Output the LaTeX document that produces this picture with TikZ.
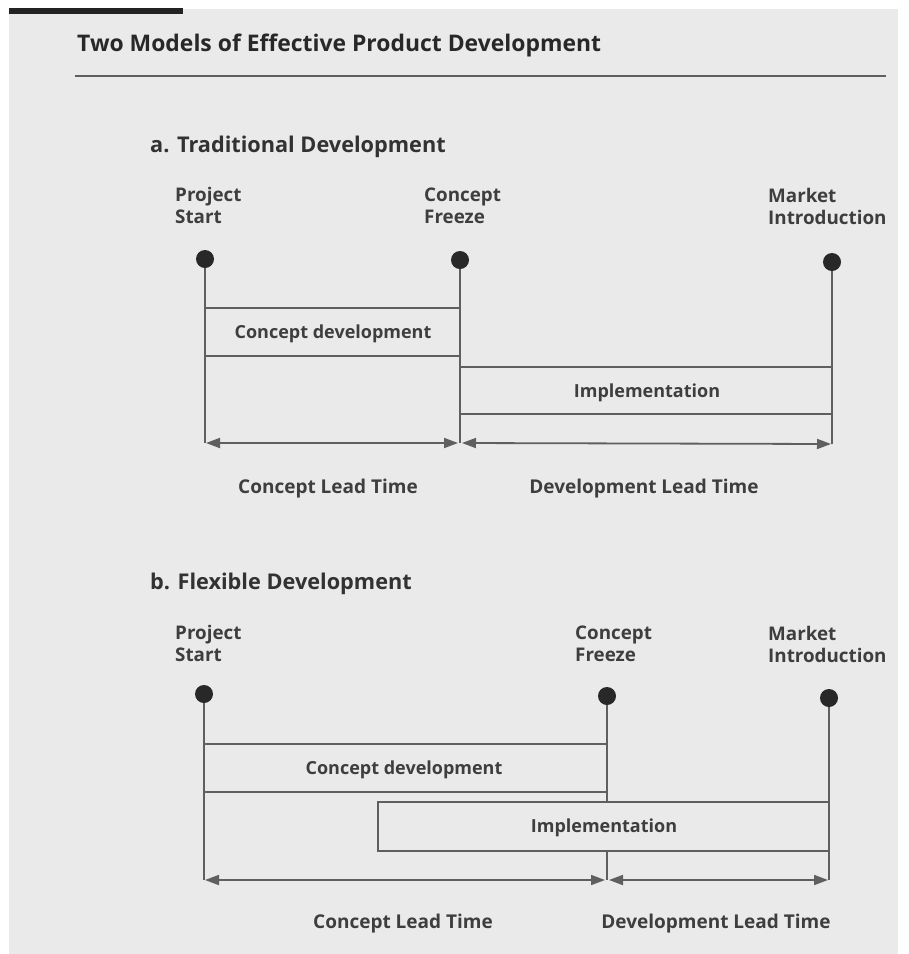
\documentclass[tikz,border=0pt]{standalone}
\usepackage{fontspec}
\setmainfont{Open Sans}
\usetikzlibrary{arrows.meta}
\definecolor{bgc}{RGB}{234,234,234}
\definecolor{linec}{RGB}{95,95,95}
\definecolor{txtc}{RGB}{62,62,62}
\definecolor{dotc}{RGB}{40,40,40}
\definecolor{barc}{RGB}{35,35,35}
\tikzset{
  dotnode/.style={circle, fill=dotc, inner sep=0pt, minimum size=18pt},
  lbl/.style={font=\bfseries\fontsize{18.8}{22}\selectfont, text=txtc, align=left, anchor=north west, inner sep=0pt},
  boxtxt/.style={font=\bfseries\fontsize{18}{20}\selectfont, text=txtc, inner sep=0pt},
  leadtxt/.style={font=\bfseries\fontsize{19}{21}\selectfont, text=txtc, inner sep=0pt},
  headtxt/.style={font=\bfseries\fontsize{21.7}{25}\selectfont, text=txtc!80!black, anchor=west, inner sep=0pt},
  ln/.style={draw=linec, line width=1.8pt},
  dimline/.style={ln, {Triangle[length=14pt,width=10pt]}-{Triangle[length=14pt,width=10pt]}},
}
\begin{document}
\begin{tikzpicture}[x=1pt,y=-1pt]
\useasboundingbox (0,0) rectangle (909,954);
\fill[bgc] (9,9) rectangle (898,954);
\fill[barc] (9,8) rectangle (183,14);
% title
\node[headtxt, font=\bfseries\fontsize{22.9}{26}\selectfont, text=txtc!65!black] (title) at (77,45) {Two Models of Effective Product Development};
\coordinate (ruleL) at (75,76);
\coordinate (ruleR) at (886,76);
\draw[ln] (ruleL) -- (ruleR);

% ===== a. Traditional =====
\node[headtxt] (ha) at (150,147) {a. Traditional Development};
\node[lbl] (aPS) at (175,187) {Project\\Start};
\node[lbl] (aCF) at (424,188) {Concept\\Freeze};
\node[lbl] (aMI) at (768,188) {Market\\Introduction};
\node[dotnode] (aD1) at (205,259) {};
\node[dotnode] (aD2) at (460,260) {};
\node[dotnode] (aD3) at (832,262) {};
\coordinate (aB1) at (205,443);
\coordinate (aB2) at (460,443);
\coordinate (aB3) at (832,444);
\draw[ln] (aD1) -- (aB1);
\draw[ln] (aD2) -- (aB2);
\draw[ln] (aD3) -- (aB3);
% concept development box
\coordinate (aC1) at (205,308); \coordinate (aC2) at (460,308);
\coordinate (aC3) at (205,356); \coordinate (aC4) at (460,356);
\draw[ln] (aC1) -- (aC2);
\draw[ln] (aC3) -- (aC4);
\node[boxtxt] (aCD) at (333,334) {Concept development};
% implementation box
\coordinate (aI1) at (460,367); \coordinate (aI2) at (832,367);
\coordinate (aI3) at (460,414); \coordinate (aI4) at (832,414);
\draw[ln] (aI1) -- (aI2);
\draw[ln] (aI3) -- (aI4);
\node[boxtxt] (aIM) at (647,393) {Implementation};
% lead time arrows
\draw[dimline] ([xshift=1pt]aB1) -- ([xshift=-2pt]aB2);
\draw[dimline] ([xshift=2pt]aB2) -- ([xshift=-1pt]aB3);
\node[leadtxt] (aCL) at (328,489) {Concept Lead Time};
\node[leadtxt] (aDL) at (644,489) {Development Lead Time};

% ===== b. Flexible =====
\node[headtxt] (hb) at (150,584) {b. Flexible Development};
\node[lbl] (bPS) at (175,625) {Project\\Start};
\node[lbl] (bCF) at (575,626) {Concept\\Freeze};
\node[lbl] (bMI) at (768,626) {Market\\Introduction};
\node[dotnode] (bD1) at (204,694) {};
\node[dotnode] (bD2) at (607,696) {};
\node[dotnode] (bD3) at (829,698) {};
\coordinate (bB1) at (204,880);
\coordinate (bB2) at (607,880);
\coordinate (bB3) at (829,880);
\coordinate (bI1) at (378,802); \coordinate (bI2) at (829,802);
\coordinate (bI3) at (378,851); \coordinate (bI4) at (829,851);
\coordinate (bT) at (607,802);
\coordinate (bU) at (607,851);
\draw[ln] (bD1) -- (bB1);
\draw[ln] (bD2) -- (bT);
\draw[ln] (bU) -- (bB2);
\draw[ln] (bD3) -- (bB3);
% concept development box
\coordinate (bC1) at (204,744); \coordinate (bC2) at (607,744);
\coordinate (bC3) at (204,792); \coordinate (bC4) at (607,792);
\draw[ln] (bC1) -- (bC2);
\draw[ln] (bC3) -- (bC4);
\node[boxtxt] (bCD) at (404,770) {Concept development};
% implementation box
\draw[ln] (bI2) -- (bI1) -- (bI3) -- (bI4);
\node[boxtxt] (bIM) at (604,828) {Implementation};
% lead time arrows
\draw[dimline] ([xshift=1pt]bB1) -- ([xshift=-2pt]bB2);
\draw[dimline] ([xshift=2pt]bB2) -- ([xshift=-1pt]bB3);
\node[leadtxt] (bCL) at (403,924) {Concept Lead Time};
\node[leadtxt] (bDL) at (716,924) {Development Lead Time};
\end{tikzpicture}
\end{document}
